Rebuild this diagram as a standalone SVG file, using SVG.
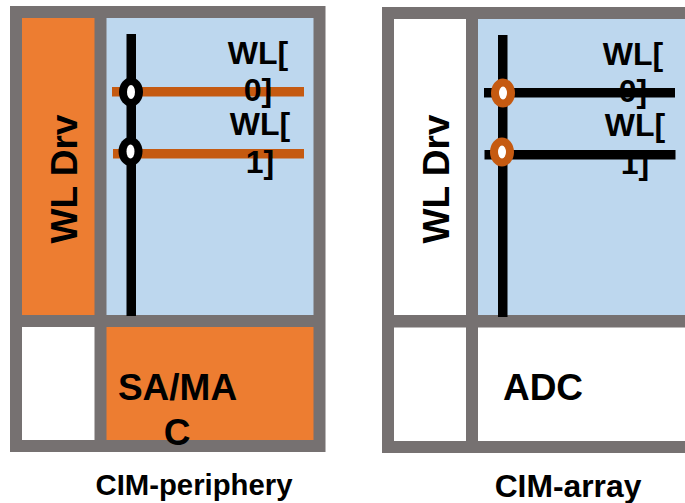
<svg xmlns="http://www.w3.org/2000/svg" width="685" height="503" viewBox="0 0 685 503">
<style>
.frame{fill:#767171}
.blue{fill:#bdd7ee}
.orange{fill:#ed7d31}
.white{fill:#fff}
.dark{fill:#000}
.rust{fill:#c55a11}
text{font-family:"Liberation Sans",Arial,sans-serif;font-weight:bold;fill:#000;text-anchor:middle}
.t{font-size:32px}
.b{font-size:37px}
.c{font-size:29.300px}
.d{font-size:31.800px}
</style>
<rect width="685" height="503" fill="#fff"/>
<g id="left-frame"><rect class="frame" x="10" y="6" width="315.500" height="446"/></g>
<g id="left-wl-drv"><rect class="orange" x="22" y="18" width="72.500" height="297"/><text class="b" transform="translate(77,179) rotate(-90)">WL Drv</text></g>
<g id="left-array"><rect class="blue" x="106.500" y="18" width="207" height="297"/></g>
<g id="left-corner"><rect class="white" x="22" y="327" width="72.500" height="113"/></g>
<g id="left-samac"><rect class="orange" x="106.500" y="327" width="207" height="113"/><text class="b" x="177.500" y="399.500">SA/MA</text><text class="b" x="177" y="444.500">C</text></g>
<g id="connectors-left">
<rect class="dark" x="126.500" y="34" width="9.500" height="282"/>
<rect class="rust" x="112" y="87" width="192" height="9.500"/>
<rect class="rust" x="113" y="149" width="191" height="9.500"/>
<ellipse class="dark" cx="131" cy="92" rx="12" ry="14.500"/><ellipse class="white" cx="131" cy="92" rx="4" ry="7"/>
<ellipse class="dark" cx="130.500" cy="151.500" rx="12" ry="14.500"/><ellipse class="white" cx="130.500" cy="151.500" rx="4" ry="7"/>
</g>
<g id="left-wl0"><text class="t" x="258" y="64">WL[</text><text class="t" x="258" y="101">0]</text></g>
<g id="left-wl1"><text class="t" x="260" y="135">WL[</text><text class="t" x="260" y="173">1]</text></g>
<g id="left-caption"><text class="c" x="194" y="495">CIM-periphery</text></g>

<g id="right-frame"><rect class="frame" x="382" y="7" width="303" height="446"/></g>
<g id="right-wl-drv"><rect class="white" x="394" y="19" width="72" height="296"/><text class="b" transform="translate(449,179) rotate(-90)">WL Drv</text></g>
<g id="right-array"><rect class="blue" x="478" y="19" width="207" height="296"/></g>
<g id="right-corner"><rect class="white" x="394" y="327.500" width="72" height="113.500"/></g>
<g id="right-adc"><rect class="white" x="478" y="327.500" width="207" height="113.500"/><text class="b" x="543" y="399.500">ADC</text></g>
<g id="connectors-right">
<rect class="dark" x="498" y="35" width="9.500" height="282"/>
<rect class="dark" x="484" y="88" width="191" height="9.500"/>
<rect class="dark" x="484.500" y="150" width="191" height="9.500"/>
<ellipse class="rust" cx="503" cy="93" rx="12" ry="14.500"/><ellipse class="white" cx="503" cy="93" rx="4" ry="6.500"/>
<ellipse class="rust" cx="502" cy="152" rx="12" ry="14.500"/><ellipse class="white" cx="502" cy="152" rx="4" ry="6.500"/>
</g>
<g id="right-wl0"><text class="t" x="633" y="65">WL[</text><text class="t" x="633" y="102">0]</text></g>
<g id="right-wl1"><text class="t" x="635" y="136">WL[</text><text class="t" x="635" y="174">1]</text></g>
<g id="right-caption"><text class="d" x="568" y="497">CIM-array</text></g>
</svg>
